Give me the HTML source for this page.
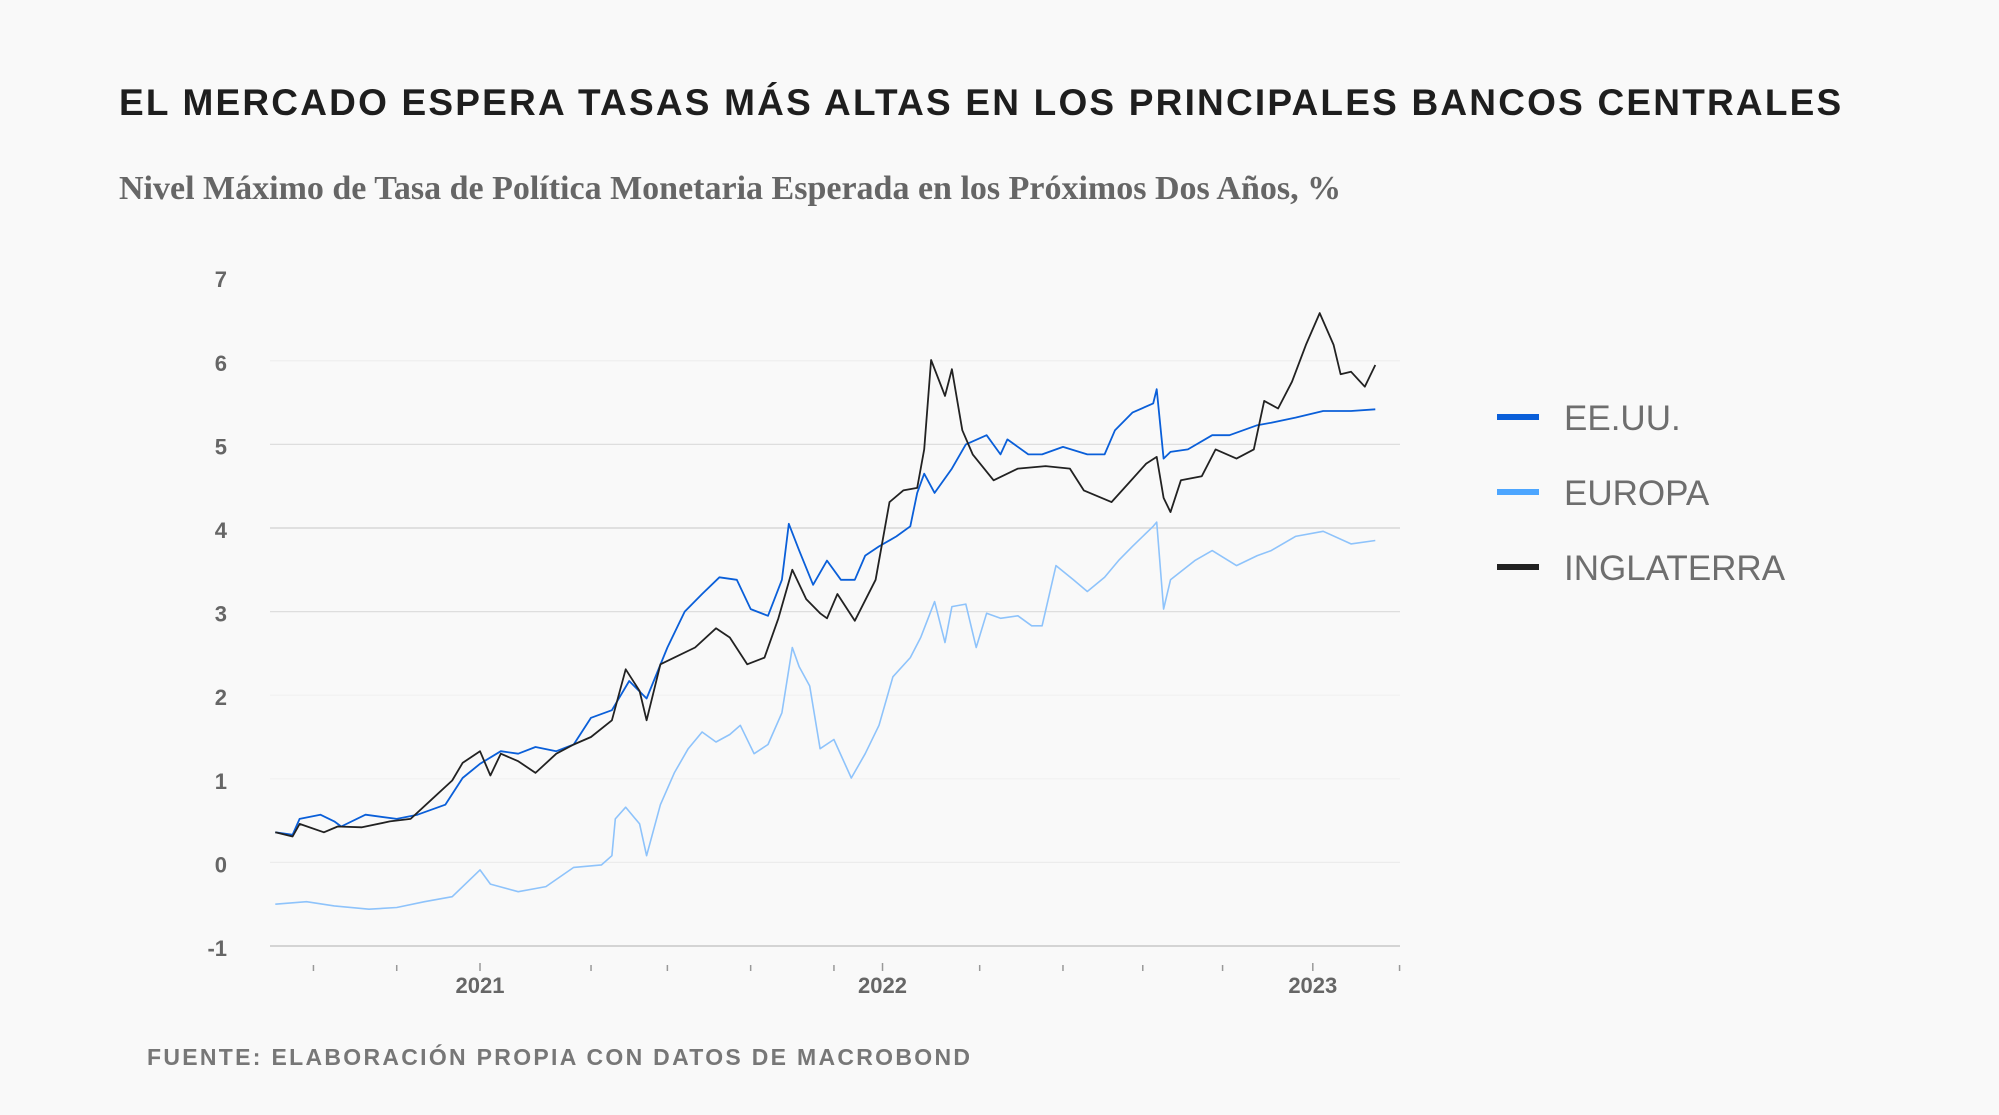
<!DOCTYPE html>
<html><head><meta charset="utf-8"><style>
html,body{margin:0;padding:0;background:#f9f9f9;}
body{width:1999px;height:1115px;position:relative;overflow:hidden;font-family:"Liberation Sans",sans-serif;}
.title{position:absolute;left:119px;top:82px;font-size:37px;font-weight:bold;color:#1e1e1e;letter-spacing:2.2px;white-space:nowrap;}
.sub{position:absolute;left:119px;top:170px;font-family:"Liberation Serif",serif;font-size:34px;font-weight:bold;color:#666;white-space:nowrap;}
.foot{position:absolute;left:147px;top:1044px;font-size:23px;font-weight:bold;color:#777;letter-spacing:2.3px;white-space:nowrap;}
svg{position:absolute;left:0;top:0;}
</style></head><body>
<div class="title">EL MERCADO ESPERA TASAS MÁS ALTAS EN LOS PRINCIPALES BANCOS CENTRALES</div>
<div class="sub">Nivel Máximo de Tasa de Política Monetaria Esperada en los Próximos Dos Años, %</div>
<div class="foot">FUENTE: ELABORACIÓN PROPIA CON DATOS DE MACROBOND</div>
<svg id="chart" width="1999" height="1115"></svg>
<script>
// months since Jan 2021
const ukMonths=[-5.9,-5.4,-5.2,-4.5,-4.1,-3.4,-2.6,-2.0,-1.4,-0.8,-0.5,0.0,0.3,0.6,1.1,1.6,2.2,2.7,3.2,3.8,4.2,4.6,4.8,5.2,5.6,6.2,6.8,7.2,7.7,8.2,8.6,9.0,9.4,9.8,10.0,10.3,10.8,11.4,11.8,12.2,12.6,12.8,13.0,13.4,13.6,13.9,14.2,14.8,15.5,16.3,17.0,17.4,18.2,18.7,19.2,19.5,19.7,19.9,20.2,20.8,21.2,21.8,22.3,22.6,23.0,23.4,23.8,24.2,24.6,24.8,25.1,25.5,25.8];
const ukValues=[.36,.31,.46,.36,.43,.42,.49,.52,.75,.98,1.19,1.33,1.04,1.30,1.21,1.07,1.30,1.41,1.50,1.70,2.31,2.05,1.70,2.37,2.45,2.57,2.80,2.69,2.37,2.45,2.92,3.50,3.15,2.98,2.92,3.21,2.89,3.38,4.31,4.45,4.48,4.94,6.01,5.58,5.90,5.17,4.88,4.57,4.71,4.74,4.71,4.45,4.31,4.54,4.77,4.85,4.36,4.19,4.57,4.62,4.94,4.83,4.94,5.52,5.43,5.75,6.19,6.57,6.19,5.84,5.87,5.69,5.95];
const usMonths=[-5.9,-5.4,-5.2,-4.6,-4.2,-4.0,-3.3,-2.4,-1.8,-1.0,-0.5,0.0,0.6,1.1,1.6,2.2,2.7,3.2,3.8,4.3,4.8,5.4,5.9,6.4,6.9,7.4,7.8,8.3,8.7,8.9,9.2,9.6,10.0,10.4,10.8,11.1,11.5,12.0,12.4,12.6,12.8,13.1,13.6,14.0,14.6,15.0,15.2,15.8,16.2,16.8,17.5,18.0,18.3,18.8,19.4,19.5,19.7,19.9,20.4,21.1,21.6,22.4,22.8,23.5,24.3,25.1,25.8];
const usValues=[.36,.33,.52,.57,.49,.43,.57,.52,.57,.69,1.01,1.18,1.33,1.30,1.38,1.33,1.41,1.73,1.82,2.17,1.96,2.57,3.00,3.21,3.41,3.38,3.03,2.95,3.38,4.05,3.73,3.32,3.61,3.38,3.38,3.67,3.78,3.90,4.02,4.42,4.65,4.42,4.71,5.00,5.11,4.88,5.06,4.88,4.88,4.97,4.88,4.88,5.17,5.38,5.49,5.66,4.83,4.91,4.94,5.11,5.11,5.23,5.26,5.32,5.40,5.40,5.42];
const euMonths=[-5.9,-5.0,-4.2,-3.2,-2.4,-1.6,-0.8,0.0,0.3,1.1,1.9,2.7,3.5,3.8,3.9,4.2,4.6,4.8,5.2,5.6,6.0,6.4,6.8,7.2,7.5,7.9,8.3,8.7,9.0,9.2,9.5,9.8,10.2,10.7,11.1,11.5,11.9,12.4,12.7,13.1,13.4,13.6,14.0,14.3,14.6,15.0,15.5,15.9,16.2,16.6,17.1,17.5,18.0,18.4,18.8,19.4,19.5,19.7,19.9,20.6,21.1,21.8,22.4,22.8,23.5,24.3,25.1,25.8];
const euValues=[-.50,-.47,-.52,-.56,-.54,-.47,-.41,-.09,-.26,-.35,-.29,-.06,-.03,.08,.52,.66,.46,.08,.69,1.07,1.36,1.56,1.44,1.53,1.64,1.30,1.41,1.79,2.57,2.34,2.11,1.36,1.47,1.01,1.30,1.64,2.22,2.45,2.69,3.12,2.63,3.06,3.09,2.57,2.98,2.92,2.95,2.83,2.83,3.55,3.38,3.24,3.41,3.61,3.78,4.02,4.07,3.03,3.38,3.61,3.73,3.55,3.67,3.73,3.90,3.96,3.81,3.85];
const yTicks=[-1,0,1,2,3,4,5,6,7];
const yearLabels=["2021","2022","2023"];
const yearMonths=[0,11.6,24];
const quarterTicks=[-4.8,-2.4,3.2,5.4,7.8,10.2,14.4,16.8,19.1,21.4,26.5];

const NS="http://www.w3.org/2000/svg";
const svg=document.getElementById('chart');
const X0=270,X1=1400;
const xs=m=>480+m*34.7;
const ys=v=>946-(v+1)*83.6;
function mk(t,a){const e=document.createElementNS(NS,t);for(const k in a)e.setAttribute(k,a[k]);svg.appendChild(e);return e;}
const gridCol={"-1":"#c8c8c8","0":"#ececec","1":"#f1f1f1","2":"#f1f1f1","3":"#dedede","4":"#d2d2d2","5":"#dedede","6":"#eeeeee","7":"none"};
yTicks.forEach(v=>{
  if(v!==7){const g=mk('line',{x1:X0,x2:X1,y1:ys(v),y2:ys(v),stroke:gridCol[v],'stroke-width':v===-1?1.5:1.2});
  
  }
  const t=mk('text',{x:227,y:ys(v)+10,'text-anchor':'end','font-size':22,'font-weight':'bold',fill:'#666','font-family':'Liberation Sans, sans-serif'});
  t.textContent=String(v);
  
  
});
quarterTicks.forEach(m=>{
  const l=mk('line',{x1:xs(m),x2:xs(m),y1:965,y2:971,stroke:'#999','stroke-width':1.5});
  
  
});
yearMonths.forEach((m,i)=>{
  const l=mk('line',{x1:xs(m),x2:xs(m),y1:963,y2:971,stroke:'#999','stroke-width':1.5});
  
  
  const t=mk('text',{x:xs(m),y:993,'text-anchor':'middle','font-size':22,'font-weight':'bold',fill:'#666','font-family':'Liberation Sans, sans-serif'});
  t.textContent=yearLabels[i];
  
  
});
function series(ms,vs,col,name,w){
  const p=mk('polyline',{points:ms.map((m,i)=>xs(m).toFixed(1)+','+ys(vs[i]).toFixed(1)).join(' '),fill:'none',stroke:col,'stroke-width':w,'stroke-linejoin':'round'});
  
  
}
series(euMonths,euValues,'#8ec3fb','europa-line',1.6);
series(usMonths,usValues,'#0a5fd9','eeuu-line',1.8);
series(ukMonths,ukValues,'#222222','inglaterra-line',1.8);
const leg=[["EE.UU.","#0a5fd9",417],["EUROPA","#4da6ff",492],["INGLATERRA","#222222",567]];
leg.forEach(d=>{
  const l=mk('line',{x1:1497,x2:1539,y1:d[2],y2:d[2],stroke:d[1],'stroke-width':6});
  
  
  const t=mk('text',{x:1564,y:d[2]+13,'font-size':35,fill:'#6e6e6e','font-family':'Liberation Sans, sans-serif'});
  t.textContent=d[0];
  
  
});
</script>
</body></html>
